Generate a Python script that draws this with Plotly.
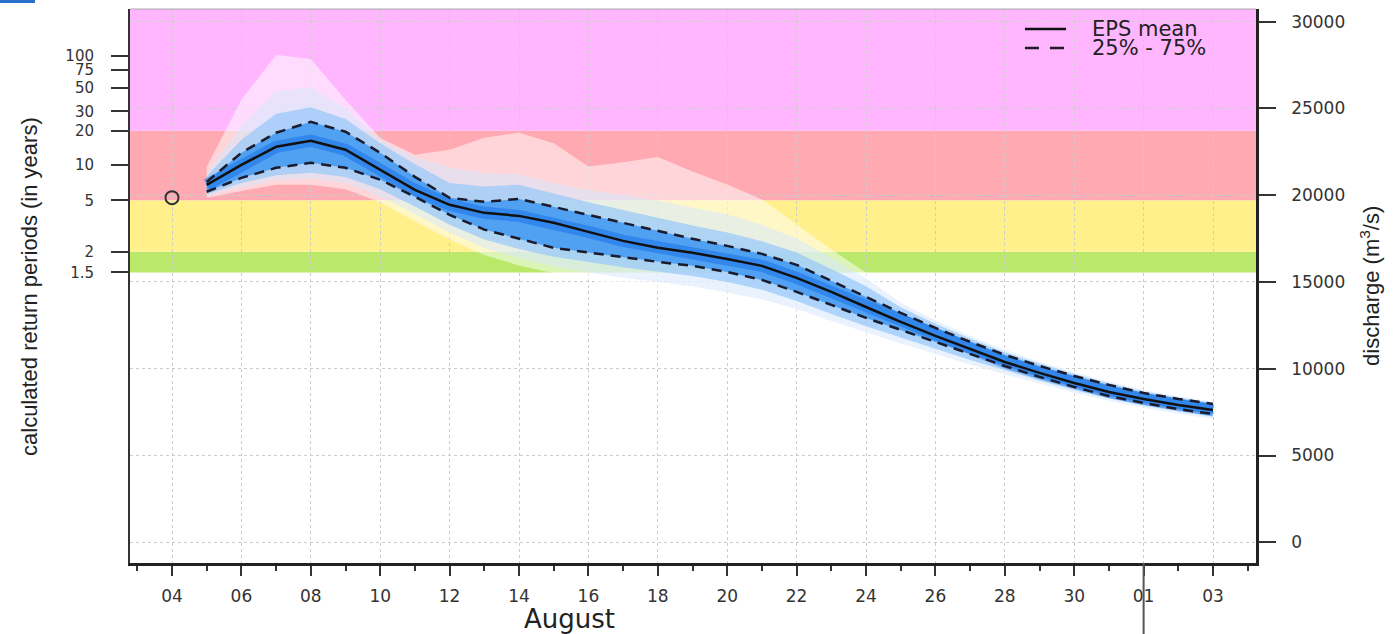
import plotly.graph_objects as go

# ---------------- data ----------------
forecast_dates = ["2010-08-05", "2010-08-06", "2010-08-07", "2010-08-08", "2010-08-09",
                  "2010-08-10", "2010-08-11", "2010-08-12", "2010-08-13", "2010-08-14",
                  "2010-08-15", "2010-08-16", "2010-08-17", "2010-08-18", "2010-08-19",
                  "2010-08-20", "2010-08-21", "2010-08-22", "2010-08-23", "2010-08-24",
                  "2010-08-25", "2010-08-26", "2010-08-27", "2010-08-28", "2010-08-29",
                  "2010-08-30", "2010-08-31", "2010-09-01", "2010-09-02", "2010-09-03"]

obs_date = ["2010-08-04"]
obs_discharge = [19860]

ens_mean = [20600, 21750, 22790, 23140, 22620, 21465, 20310, 19450, 18985, 18810,
            18410, 17890, 17370, 16970, 16680, 16330, 15930, 15240, 14430, 13560,
            12700, 11890, 11140, 10390, 9760, 9180, 8660, 8260, 7910, 7620]
ens_p75 = [20770, 22445, 23600, 24230, 23660, 22445, 21060, 19850, 19620, 19790,
           19330, 18870, 18410, 17950, 17490, 17080, 16620, 15990, 15070, 14140,
           13220, 12350, 11550, 10800, 10160, 9585, 9070, 8600, 8260, 7970]
ens_p25 = [20200, 21000, 21580, 21870, 21580, 20890, 19910, 18870, 18020, 17480,
           16970, 16700, 16420, 16160, 15930, 15580, 15120, 14430, 13680, 12930,
           12240, 11550, 10850, 10160, 9530, 8950, 8430, 8030, 7680, 7390]
ens_p90 = [21100, 23200, 24700, 25070, 24400, 23000, 21800, 20700, 20500, 20600,
           20100, 19600, 19150, 18700, 18250, 17850, 17350, 16700, 15750, 14750,
           13550, 12600, 11750, 10950, 10300, 9700, 9170, 8690, 8340, 8040]
ens_p10 = [20050, 20700, 21150, 21300, 21050, 20350, 19350, 18300, 17450, 16900,
           16450, 16150, 15850, 15600, 15350, 15000, 14550, 13900, 13150, 12450,
           11800, 11150, 10500, 9900, 9330, 8780, 8290, 7880, 7530, 7240]
ens_p95 = [21300, 24000, 26000, 26230, 25000, 23200, 22200, 21600, 21300, 21200,
           20700, 20300, 20000, 19700, 19300, 18900, 18300, 17500, 16400, 15200,
           13800, 12800, 11900, 11100, 10400, 9800, 9250, 8770, 8400, 8100]
ens_p5 = [19950, 20450, 20850, 20950, 20700, 19950, 18900, 17850, 16950, 16350,
          15900, 15550, 15250, 15000, 14750, 14400, 14000, 13450, 12750, 12100,
          11450, 10850, 10250, 9680, 9130, 8620, 8150, 7750, 7410, 7120]
ens_max = [21640, 25500, 28100, 27850, 25500, 23300, 22330, 22620, 23310, 23600,
           23000, 21650, 21900, 22200, 21370, 20620, 19760, 18310, 16870, 15540,
           14000, 12900, 12000, 11150, 10450, 9850, 9300, 8800, 8430, 8130]
ens_min = [19850, 20250, 20600, 20600, 20350, 19600, 18500, 17450, 16550, 15950,
           15500, 15100, 14800, 14550, 14300, 13950, 13600, 13150, 12500, 11870,
           11250, 10650, 10080, 9520, 9000, 8530, 8070, 7670, 7330, 7040]

rp_labels = ["1.5", "2", "5", "10", "20", "30", "50", "75", "100"]
rp_discharge = [15550, 16740, 19710, 21750, 23710, 24830, 26190, 27230, 28040]
discharge_ticks = [0, 5000, 10000, 15000, 20000, 25000, 30000]
discharge_labels = ["0", "5000", "10000", "15000", "20000", "25000", "30000"]

legend_labels = ["EPS mean", "25% - 75%"]

# ---------------- styling ----------------
Y_RANGE = [-1195, 30733]
X_RANGE = ["2010-08-02 18:57", "2010-09-04 05:44"]
TICKFONT = dict(family="DejaVu Sans", size=17, color="#333333")
LEFTFONT = dict(family="DejaVu Sans", size=15, color="#333333")

fig = go.Figure()


def band(upper, lower, color):
    fig.add_trace(go.Scatter(
        x=forecast_dates + forecast_dates[::-1],
        y=upper + lower[::-1],
        fill="toself", fillcolor=color, mode="lines",
        line=dict(width=0), hoverinfo="skip", showlegend=False, yaxis="y"))


band(ens_max, ens_min, "rgba(255,255,255,0.5)")
band(ens_p95, ens_p5, "rgba(215,232,252,0.55)")
band(ens_p90, ens_p10, "rgba(150,200,250,0.7)")
band(ens_p75, ens_p25, "rgba(70,155,242,0.9)")

# halo around mean
fig.add_trace(go.Scatter(x=forecast_dates, y=ens_mean, mode="lines",
                         line=dict(color="rgba(20,110,230,0.5)", width=12),
                         hoverinfo="skip", showlegend=False))

fig.add_trace(go.Scatter(x=forecast_dates, y=ens_p75, mode="lines", name="75%",
                         line=dict(color="#1b1b2b", width=2.5, dash="10px,7px"),
                         showlegend=False))
fig.add_trace(go.Scatter(x=forecast_dates, y=ens_p25, mode="lines", name="25%",
                         line=dict(color="#1b1b2b", width=2.5, dash="10px,7px"),
                         showlegend=False))
fig.add_trace(go.Scatter(x=forecast_dates, y=ens_mean, mode="lines", name="EPS mean",
                         line=dict(color="#111111", width=2.5), showlegend=False))

fig.add_trace(go.Scatter(x=obs_date, y=obs_discharge, mode="markers", name="observed",
                         marker=dict(symbol="circle-open", size=13,
                                     line=dict(width=2, color="#333333"), color="#333333"),
                         showlegend=False))

# invisible trace so the left (return period) axis is drawn
fig.add_trace(go.Scatter(x=obs_date, y=[rp_discharge[0]], mode="markers",
                         marker=dict(opacity=0), hoverinfo="skip", showlegend=False,
                         yaxis="y2"))

# warning level bands
band_colors = ["#B9E86A", "#FFF08C", "#FFAAB2"]
band_edges = [rp_discharge[0], rp_discharge[1], rp_discharge[2], rp_discharge[4]]
shapes = []
for i, c in enumerate(band_colors):
    shapes.append(dict(type="rect", xref="paper", yref="y", x0=0, x1=1,
                       y0=band_edges[i], y1=band_edges[i + 1], fillcolor=c,
                       line=dict(width=0), layer="below"))
shapes.append(dict(type="rect", xref="paper", yref="y", x0=0, x1=1,
                   y0=rp_discharge[4], y1=Y_RANGE[1], fillcolor="#FFB6FF",
                   line=dict(width=0), layer="below"))
# top border
shapes.append(dict(type="line", xref="paper", yref="paper", x0=0, x1=1, y0=1, y1=1,
                   line=dict(color="#aaaaaa", width=1)))
# vertical marker below the axis at 01
shapes.append(dict(type="line", xref="x", yref="paper", x0="2010-09-01", x1="2010-09-01",
                   y0=0, y1=-0.14, line=dict(color="#555555", width=2)))
# blue bar at top-left corner
shapes.append(dict(type="rect", xref="paper", yref="paper", x0=-0.1155, x1=-0.0844,
                   y0=1.0108, y1=1.0162, fillcolor="#2a6fc9", line=dict(width=0)))
# legend samples
shapes.append(dict(type="line", xref="paper", yref="paper", x0=0.7948, x1=0.8313,
                   y0=0.9640, y1=0.9640, line=dict(color="#111111", width=2.5)))
shapes.append(dict(type="line", xref="paper", yref="paper", x0=0.7948, x1=0.8313,
                   y0=0.9296, y1=0.9296, line=dict(color="#1b1b2b", width=2.5, dash="14px,11px")))

annotations = [
    dict(text=legend_labels[0], xref="paper", yref="paper", x=0.8526, y=0.9640,
         xanchor="left", yanchor="middle", showarrow=False,
         font=dict(family="DejaVu Sans", size=21, color="#222222")),
    dict(text=legend_labels[1], xref="paper", yref="paper", x=0.8526, y=0.9296,
         xanchor="left", yanchor="middle", showarrow=False,
         font=dict(family="DejaVu Sans", size=21, color="#222222")),
    dict(text="calculated return periods (in years)", xref="paper", yref="paper",
         x=-0.0897, y=0.5, xanchor="center", yanchor="middle", textangle=-90,
         showarrow=False, font=dict(family="Liberation Sans", size=22, color="#222222")),
    dict(text="discharge (m<sup>3</sup>/s)", xref="paper", yref="paper",
         x=1.1012, y=0.5, xanchor="center", yanchor="middle", textangle=-90,
         showarrow=False, font=dict(family="Liberation Sans", size=22, color="#222222")),
    dict(text="August", xref="paper", yref="paper", x=0.3899, y=-0.1011,
         xanchor="center", yanchor="middle", showarrow=False,
         font=dict(family="DejaVu Sans", size=26, color="#222222")),
]

fig.update_layout(
    width=1396, height=634,
    margin=dict(l=130, r=140, t=9, b=71),
    plot_bgcolor="white", paper_bgcolor="white",
    showlegend=False,
    shapes=shapes, annotations=annotations,
    xaxis=dict(type="date", range=X_RANGE, tick0="2010-08-04", dtick=172800000,
               tickformat="%d", ticks="outside", ticklen=10, tickwidth=2,
               tickcolor="#333333", showline=True, linecolor="#222222", linewidth=2.5,
               showgrid=True, gridcolor="#cccccc", griddash="dot", gridwidth=1,
               zeroline=False, tickfont=TICKFONT, ticklabelstandoff=6,
               minor=dict(dtick=86400000, tick0="2010-08-04", ticklen=5, tickwidth=1.5,
                          tickcolor="#333333", ticks="outside", showgrid=False)),
    yaxis=dict(range=Y_RANGE, side="right", tickvals=discharge_ticks,
               ticktext=discharge_labels,
               ticks="outside", ticklen=17, tickwidth=2, tickcolor="#333333",
               showline=True, linecolor="#222222", linewidth=2.5,
               showgrid=True, gridcolor="#cccccc", griddash="dot", gridwidth=1,
               zeroline=False, tickfont=TICKFONT, ticklabelstandoff=12),
    yaxis2=dict(range=Y_RANGE, overlaying="y", side="left", anchor="x",
                tickvals=rp_discharge, ticktext=rp_labels,
                ticks="outside", ticklen=17, tickwidth=2, tickcolor="#333333",
                showline=True, linecolor="#333333", linewidth=2,
                showgrid=False, zeroline=False, tickfont=LEFTFONT, ticklabelstandoff=14),
)

fig.write_html("out.html", config={"displayModeBar": False},
               post_script="document.body.style.margin='0';")
